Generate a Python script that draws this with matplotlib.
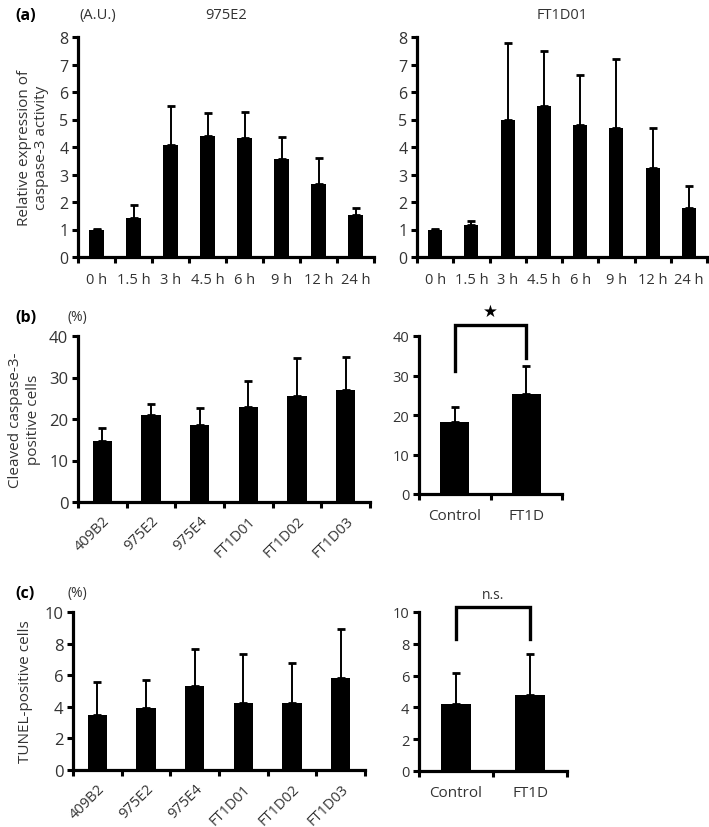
import matplotlib.pyplot as plt
import numpy as np

plt.rcParams["font.family"] = ["Open Sans", "DejaVu Sans"]
txt = "#333333"

# (a) caspase-3 activity time course
times = ["0 h", "1.5 h", "3 h", "4.5 h", "6 h", "9 h", "12 h", "24 h"]
e2_mean = [1.0, 1.42, 4.08, 4.39, 4.34, 3.56, 2.64, 1.53]
e2_sd = [0.02, 0.48, 1.42, 0.83, 0.94, 0.79, 0.95, 0.25]
ft_mean = [1.0, 1.18, 4.99, 5.50, 4.79, 4.69, 3.23, 1.79]
ft_sd = [0.02, 0.13, 2.78, 1.99, 1.82, 2.52, 1.46, 0.78]

# (b) cleaved caspase-3 positive cells
lines = ["409B2", "975E2", "975E4", "FT1D01", "FT1D02", "FT1D03"]
cc3_mean = [14.8, 21.0, 18.6, 22.9, 25.6, 27.1]
cc3_sd = [3.0, 2.6, 4.0, 6.3, 9.0, 7.9]
groups = ["Control", "FT1D"]
cc3_grp_mean = [18.3, 25.3]
cc3_grp_sd = [3.8, 7.0]

# (c) TUNEL positive cells
tunel_mean = [3.5, 3.94, 5.34, 4.26, 4.24, 5.83]
tunel_sd = [2.05, 1.76, 2.29, 3.07, 2.52, 3.09]
tunel_grp_mean = [4.21, 4.76]
tunel_grp_sd = [1.97, 2.6]

W, H = 709, 828
fig = plt.figure(figsize=(W / 100, H / 100), dpi=100)


def make_ax(x0, y0, x1, y1):
    # pixel box -> figure fraction
    return fig.add_axes([x0 / W, 1 - y1 / H, (x1 - x0) / W, (y1 - y0) / H])


def bars(ax, labels, mean, sd, ymax, ystep, ysize=11, xsize=10.5, rot=0,
         width=0.4, xpad=9):
    n = len(labels)
    x = np.arange(n)
    ax.bar(x, mean, width=width, color="black", zorder=3)
    ax.errorbar(x, mean, yerr=[np.zeros(n), sd], fmt="none", ecolor="black",
                elinewidth=1.4, capsize=3, capthick=2, zorder=2)
    ax.set_xlim(-0.5, n - 0.5)
    ax.set_ylim(0, ymax)
    ax.set_yticks(np.arange(0, ymax + 0.01, ystep))
    ax.set_xticks(np.arange(n + 1) - 0.5)
    ax.set_xticklabels([])
    ax.set_xticks(x, minor=True)
    if rot:
        ax.set_xticklabels(labels, minor=True, rotation=45, ha="right",
                           rotation_mode="anchor", fontsize=xsize, color=txt)
    else:
        ax.set_xticklabels(labels, minor=True, fontsize=xsize, color=txt)
    ax.tick_params(axis="x", which="minor", length=0, pad=xpad)
    ax.tick_params(axis="both", which="major", direction="out", length=4,
                   width=2.2, labelsize=ysize, labelcolor=txt, pad=3)
    for s in ["top", "right"]:
        ax.spines[s].set_visible(False)
    for s in ["left", "bottom"]:
        ax.spines[s].set_linewidth(2.3)
    ax.spines["left"].set_bounds(0, ymax)


def bracket(ax, x0, x1, ytop, y0, y1, label, fs, family=None):
    ax.plot([x0, x0, x1, x1], [y0, ytop, ytop, y1], color="black", lw=2.4,
            clip_on=False, solid_joinstyle="miter")
    ax.text((x0 + x1) / 2, ytop * 1.03, label, ha="center", va="bottom",
            fontsize=fs, color=txt if family is None else "black",
            family=family)


# panel (a)
ax = make_ax(78, 38, 374, 258)
bars(ax, times, e2_mean, e2_sd, 8, 1, ysize=11.5, xsize=10.5, width=0.38,
     xpad=11)
ax.set_ylabel("Relative expression of\ncaspase-3 activity", fontsize=11,
              color=txt, labelpad=7)
ax.set_title("975E2", fontsize=10.5, color=txt, pad=14)
fig.text(15 / W, 1 - 16 / H, "(a)", fontsize=11.5, weight="bold", va="center")
fig.text(79 / W, 1 - 16 / H, "(A.U.)", fontsize=10.5, color=txt, va="center")

ax = make_ax(417, 38, 707, 258)
bars(ax, times, ft_mean, ft_sd, 8, 1, ysize=11.5, xsize=10.5, width=0.38,
     xpad=11)
ax.set_title("FT1D01", fontsize=10.5, color=txt, pad=14)

# panel (b)
ax = make_ax(78, 337, 370, 503)
bars(ax, lines, cc3_mean, cc3_sd, 40, 10, ysize=12, xsize=10.5, rot=45,
     xpad=8)
ax.set_ylabel("Cleaved caspase-3-\npositive cells", fontsize=11, color=txt,
              labelpad=6)
fig.text(15 / W, 1 - 318 / H, "(b)", fontsize=11.5, weight="bold", va="center")
fig.text(67 / W, 1 - 318 / H, "(%)", fontsize=10, color=txt, va="center")

ax = make_ax(419, 337, 562, 495)
bars(ax, groups, cc3_grp_mean, cc3_grp_sd, 40, 10, ysize=10.5, xsize=11,
     xpad=10)
bracket(ax, 0, 1, 42.9, 31.2, 34.5, "\u2605", 12, family="DejaVu Sans")

# panel (c)
ax = make_ax(73, 613, 365, 771)
bars(ax, lines, tunel_mean, tunel_sd, 10, 2, ysize=12, xsize=10.5, rot=45,
     xpad=8)
ax.set_ylabel("TUNEL-positive cells", fontsize=11, color=txt, labelpad=8)
fig.text(15 / W, 1 - 594 / H, "(c)", fontsize=11.5, weight="bold", va="center")
fig.text(67 / W, 1 - 594 / H, "(%)", fontsize=10, color=txt, va="center")

ax = make_ax(419, 613, 567, 772)
bars(ax, groups, tunel_grp_mean, tunel_grp_sd, 10, 2, ysize=10.5, xsize=11,
     xpad=10)
bracket(ax, 0, 1, 10.34, 8.28, 8.28, "n.s.", 10)

fig.savefig("out.png", dpi=100)
